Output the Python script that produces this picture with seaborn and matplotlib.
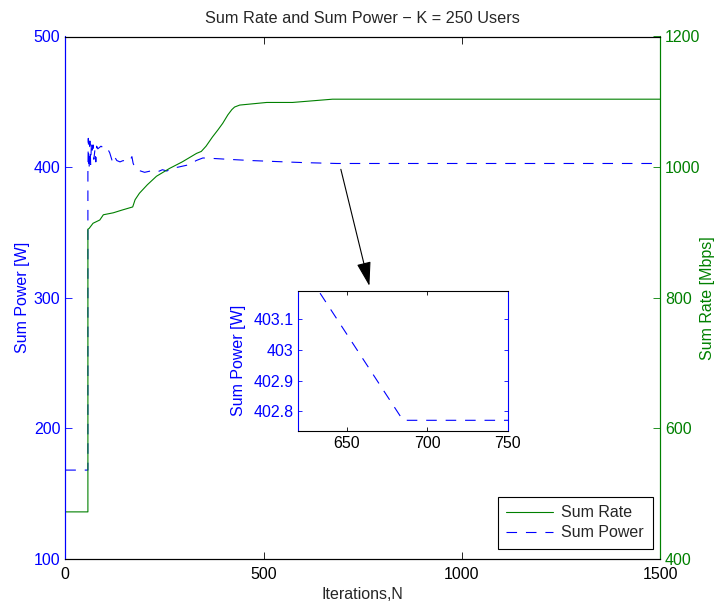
"""
Sum rate / sum power convergence plot (K = 250 users) with a zoomed inset.
"""

import matplotlib
matplotlib.use("Agg")
import matplotlib.pyplot as plt
from matplotlib.lines import Line2D
import pandas as pd
import seaborn as sns

# ---- data ----
power_iter = [0, 57, 57, 58, 60, 62, 64, 66, 68, 70, 72, 75, 77, 79, 82, 86,
              90, 95, 100, 105, 112, 118, 122, 130, 138, 146, 155, 163, 168,
              171, 175, 180, 190, 200, 215, 230, 245, 256, 270, 285, 300, 315,
              330, 347, 380, 420, 470, 520, 570, 600, 633, 685, 1500]
power_w = [168, 168, 396, 422, 398, 420, 402, 419, 413, 417, 406, 414, 404,
           416, 414, 415, 416, 415, 414, 415, 411, 405, 409, 405, 404, 405,
           404, 405, 408, 403, 400, 398, 397, 396, 397, 396, 398, 397, 399,
           400, 401, 402, 405, 407, 406.5, 405.8, 405.0, 404.4, 403.8, 403.46,
           403.19, 402.77, 402.77]

rate_iter = [0, 57, 57, 60, 70, 87, 96, 121, 142, 170, 176, 187, 207, 230,
             263, 295, 331, 343, 355, 371, 385, 397, 410, 420, 427, 440, 457,
             508, 573, 674, 1500]
rate_mbps = [472, 472, 905, 906, 914, 919, 927, 930, 934, 939, 950, 960, 973,
             986, 998, 1008, 1021, 1024, 1032, 1046, 1057, 1067, 1080, 1088,
             1092, 1095, 1096, 1099, 1099, 1104, 1104]

x_ticks = [0, 500, 1000, 1500]
power_ticks = [100, 200, 300, 400, 500]
rate_ticks = [400, 600, 800, 1000, 1200]
inset_x_ticks = [650, 700, 750]
inset_y_ticks = [402.8, 402.9, 403.0, 403.1]

BLUE = (0, 0, 1)
GREEN = (0, 0.5, 0)
FS = 11.5
DASH = (9.5, 8)

power_df = pd.DataFrame({"iter": power_iter, "power": power_w})
rate_df = pd.DataFrame({"iter": rate_iter, "rate": rate_mbps})

sns.set_style("ticks")
plt.rcParams["font.family"] = ["Liberation Sans", "DejaVu Sans"]
plt.rcParams["xtick.direction"] = "in"
plt.rcParams["ytick.direction"] = "in"

fig = plt.figure(figsize=(7.14, 6.03), dpi=100)
ax = fig.add_axes([65.3 / 714, 1 - 558.9 / 603, 594.7 / 714, 522.4 / 603])
ax2 = ax.twinx()

# main curves
sns.lineplot(data=power_df, x="iter", y="power", ax=ax, color=BLUE,
             lw=0.8, estimator=None, sort=False, legend=False)
ax.lines[-1].set_dashes(DASH)
sns.lineplot(data=rate_df, x="iter", y="rate", ax=ax2, color=GREEN,
             lw=0.8, estimator=None, sort=False, legend=False)

ax.set_xlim(0, 1500)
ax.set_ylim(100, 500)
ax2.set_ylim(400, 1200)
ax.set_xticks(x_ticks)
ax.set_yticks(power_ticks)
ax2.set_yticks(rate_ticks)

ax.tick_params(axis="x", labelsize=FS, length=5, width=0.6, top=True,
               colors="black", pad=5.5)
ax.tick_params(axis="y", labelsize=FS, length=5, width=0.6, colors=BLUE)
ax2.tick_params(axis="y", labelsize=FS, length=5, width=0.6, colors=GREEN)

for a in (ax, ax2):
    for s in a.spines.values():
        s.set_linewidth(0.8)
        s.set_color("black")
    a.spines["left"].set_color(BLUE)
    a.spines["right"].set_color(GREEN)

ax.set_xlabel("Iterations,N", fontsize=FS, labelpad=4)
ax.set_ylabel("Sum Power [W]", fontsize=FS, color=BLUE, labelpad=3)
ax2.set_ylabel("Sum Rate [Mbps]", fontsize=FS, color=GREEN, labelpad=0)
ax.set_title("Sum Rate and Sum Power \u2212 K = 250 Users", fontsize=11.7, pad=9.5)

# legend (rate first, like the reference)
handles = [Line2D([], [], color=GREEN, lw=0.8),
           Line2D([], [], color=BLUE, lw=0.8, dashes=DASH)]
leg = ax2.legend(handles, ["Sum Rate", "Sum Power"], loc="lower right",
                 bbox_to_anchor=(0.988, 0.019), fontsize=FS, frameon=True,
                 fancybox=False, framealpha=1, edgecolor="black",
                 handlelength=2.9, handletextpad=0.55, borderpad=0.55,
                 labelspacing=0.3, borderaxespad=0)
leg.get_frame().set_linewidth(0.8)

# arrow pointing to the inset
ax.annotate("", xy=(767, 309), xytext=(695, 398.3),
            arrowprops=dict(arrowstyle="-|>,head_length=0.75,head_width=0.22",
                            color="black", lw=0.8, mutation_scale=20,
                            shrinkA=0, shrinkB=0))

# inset zoom
axin = fig.add_axes([298.3 / 714, 1 - 430.7 / 603, 209.4 / 714, 140 / 603])
sns.lineplot(data=power_df, x="iter", y="power", ax=axin, color=BLUE,
             lw=0.8, estimator=None, sort=False, legend=False)
axin.lines[-1].set_dashes(DASH)
axin.set_xlim(620, 750)
axin.set_ylim(402.736, 403.194)
axin.set_xticks(inset_x_ticks)
axin.set_yticks(inset_y_ticks)
axin.set_yticklabels(["402.8", "402.9", "403", "403.1"])
axin.tick_params(axis="x", labelsize=FS, length=3, width=0.6, top=True, colors="black")
axin.tick_params(axis="y", labelsize=FS, length=3, width=0.6, right=True, colors=BLUE)
for s in axin.spines.values():
    s.set_linewidth(0.8)
    s.set_color("black")
axin.spines["left"].set_color(BLUE)
axin.spines["right"].set_color(BLUE)
axin.set_xlabel("")
axin.set_ylabel("Sum Power [W]", fontsize=FS, color=BLUE, labelpad=5)

fig.savefig("out.png", dpi=100)
